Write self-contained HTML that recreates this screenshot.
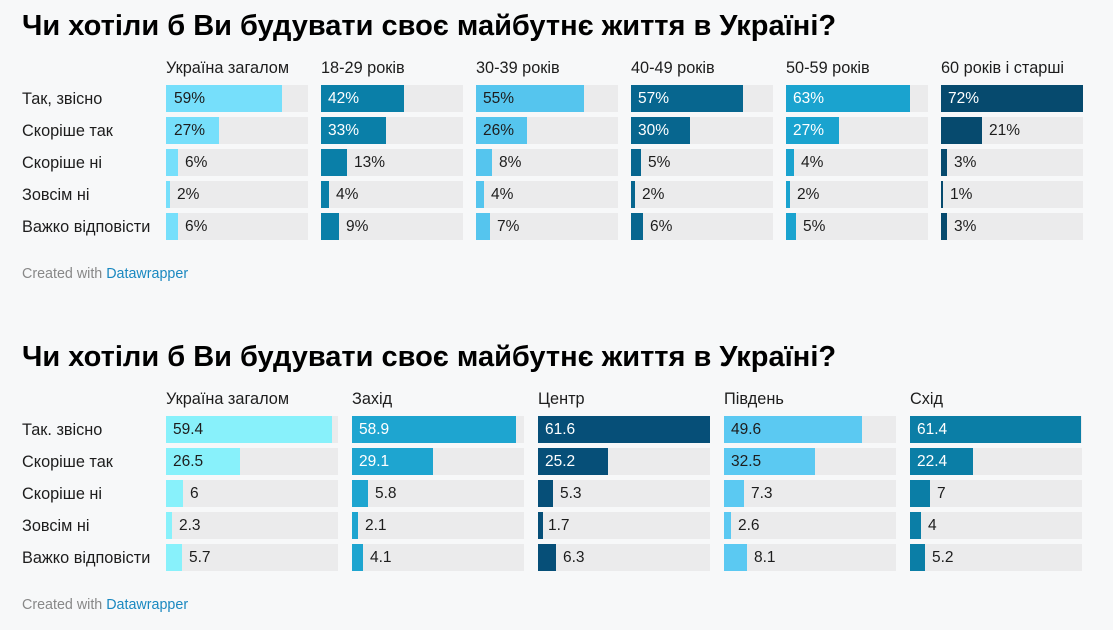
<!DOCTYPE html>
<html><head><meta charset="utf-8"><style>
body{margin:0;width:1113px;height:630px;background:#f7f8f9;font-family:"Liberation Sans","DejaVu Sans",sans-serif;position:relative;overflow:hidden;color:#1d1d1d}
.t{position:absolute;left:22px;font-weight:bold;font-size:29px;color:#000;white-space:nowrap}
.h{position:absolute;font-size:16.3px;white-space:nowrap}
.r{position:absolute;left:22px;font-size:16.3px;line-height:27px;white-space:nowrap}
.c{position:absolute;height:27px;background:#ebebec}
.b{position:absolute;left:0;top:0;height:27px}
.l{position:absolute;top:0;line-height:27px;font-size:15.5px;white-space:nowrap}
.w{color:#fff}
.f{position:absolute;left:22px;font-size:14.3px;color:#888}
.f span{color:#1a88c0}
</style></head><body>
<div class="t" style="top:10px">Чи хотіли б Ви будувати своє майбутнє життя в Україні?</div>
<div class="h" style="left:166px;top:59px">Україна загалом</div>
<div class="h" style="left:321px;top:59px">18-29 років</div>
<div class="h" style="left:476px;top:59px">30-39 років</div>
<div class="h" style="left:631px;top:59px">40-49 років</div>
<div class="h" style="left:786px;top:59px">50-59 років</div>
<div class="h" style="left:941px;top:59px">60 років і старші</div>
<div class="r" style="top:86px">Так, звісно</div>
<div class="r" style="top:118px">Скоріше так</div>
<div class="r" style="top:150px">Скоріше ні</div>
<div class="r" style="top:182px">Зовсім ні</div>
<div class="r" style="top:214px">Важко відповісти</div>

<div class="c" style="left:166px;top:85px;width:142px"><div class="b" style="width:116px;background:#76dffb"></div><span class="l" style="left:8px">59%</span></div>
<div class="c" style="left:166px;top:117px;width:142px"><div class="b" style="width:53px;background:#76dffb"></div><span class="l" style="left:8px">27%</span></div>
<div class="c" style="left:166px;top:149px;width:142px"><div class="b" style="width:12px;background:#76dffb"></div><span class="l" style="left:19px">6%</span></div>
<div class="c" style="left:166px;top:181px;width:142px"><div class="b" style="width:4px;background:#76dffb"></div><span class="l" style="left:11px">2%</span></div>
<div class="c" style="left:166px;top:213px;width:142px"><div class="b" style="width:12px;background:#76dffb"></div><span class="l" style="left:19px">6%</span></div>

<div class="c" style="left:321px;top:85px;width:142px"><div class="b" style="width:83px;background:#0a7fa8"></div><span class="l w" style="left:7px">42%</span></div>
<div class="c" style="left:321px;top:117px;width:142px"><div class="b" style="width:65px;background:#0a7fa8"></div><span class="l w" style="left:7px">33%</span></div>
<div class="c" style="left:321px;top:149px;width:142px"><div class="b" style="width:26px;background:#0a7fa8"></div><span class="l" style="left:33px">13%</span></div>
<div class="c" style="left:321px;top:181px;width:142px"><div class="b" style="width:8px;background:#0a7fa8"></div><span class="l" style="left:15px">4%</span></div>
<div class="c" style="left:321px;top:213px;width:142px"><div class="b" style="width:18px;background:#0a7fa8"></div><span class="l" style="left:25px">9%</span></div>

<div class="c" style="left:476px;top:85px;width:142px"><div class="b" style="width:108px;background:#55c5ee"></div><span class="l" style="left:7px">55%</span></div>
<div class="c" style="left:476px;top:117px;width:142px"><div class="b" style="width:51px;background:#55c5ee"></div><span class="l" style="left:7px">26%</span></div>
<div class="c" style="left:476px;top:149px;width:142px"><div class="b" style="width:16px;background:#55c5ee"></div><span class="l" style="left:23px">8%</span></div>
<div class="c" style="left:476px;top:181px;width:142px"><div class="b" style="width:8px;background:#55c5ee"></div><span class="l" style="left:15px">4%</span></div>
<div class="c" style="left:476px;top:213px;width:142px"><div class="b" style="width:14px;background:#55c5ee"></div><span class="l" style="left:21px">7%</span></div>

<div class="c" style="left:631px;top:85px;width:142px"><div class="b" style="width:112px;background:#07668f"></div><span class="l w" style="left:7px">57%</span></div>
<div class="c" style="left:631px;top:117px;width:142px"><div class="b" style="width:59px;background:#07668f"></div><span class="l w" style="left:7px">30%</span></div>
<div class="c" style="left:631px;top:149px;width:142px"><div class="b" style="width:10px;background:#07668f"></div><span class="l" style="left:17px">5%</span></div>
<div class="c" style="left:631px;top:181px;width:142px"><div class="b" style="width:4px;background:#07668f"></div><span class="l" style="left:11px">2%</span></div>
<div class="c" style="left:631px;top:213px;width:142px"><div class="b" style="width:12px;background:#07668f"></div><span class="l" style="left:19px">6%</span></div>

<div class="c" style="left:786px;top:85px;width:142px"><div class="b" style="width:124px;background:#1aa3cf"></div><span class="l w" style="left:7px">63%</span></div>
<div class="c" style="left:786px;top:117px;width:142px"><div class="b" style="width:53px;background:#1aa3cf"></div><span class="l w" style="left:7px">27%</span></div>
<div class="c" style="left:786px;top:149px;width:142px"><div class="b" style="width:8px;background:#1aa3cf"></div><span class="l" style="left:15px">4%</span></div>
<div class="c" style="left:786px;top:181px;width:142px"><div class="b" style="width:4px;background:#1aa3cf"></div><span class="l" style="left:11px">2%</span></div>
<div class="c" style="left:786px;top:213px;width:142px"><div class="b" style="width:10px;background:#1aa3cf"></div><span class="l" style="left:17px">5%</span></div>

<div class="c" style="left:941px;top:85px;width:142px"><div class="b" style="width:142px;background:#064a6e"></div><span class="l w" style="left:7px">72%</span></div>
<div class="c" style="left:941px;top:117px;width:142px"><div class="b" style="width:41px;background:#064a6e"></div><span class="l" style="left:48px">21%</span></div>
<div class="c" style="left:941px;top:149px;width:142px"><div class="b" style="width:6px;background:#064a6e"></div><span class="l" style="left:13px">3%</span></div>
<div class="c" style="left:941px;top:181px;width:142px"><div class="b" style="width:2px;background:#064a6e"></div><span class="l" style="left:9px">1%</span></div>
<div class="c" style="left:941px;top:213px;width:142px"><div class="b" style="width:6px;background:#064a6e"></div><span class="l" style="left:13px">3%</span></div>

<div class="f" style="top:266px">Created with <span>Datawrapper</span></div>

<div class="t" style="top:341px">Чи хотіли б Ви будувати своє майбутнє життя в Україні?</div>
<div class="h" style="left:166px;top:390px">Україна загалом</div>
<div class="h" style="left:352px;top:390px">Захід</div>
<div class="h" style="left:538px;top:390px">Центр</div>
<div class="h" style="left:724px;top:390px">Південь</div>
<div class="h" style="left:910px;top:390px">Схід</div>
<div class="r" style="top:417px">Так. звісно</div>
<div class="r" style="top:449px">Скоріше так</div>
<div class="r" style="top:481px">Скоріше ні</div>
<div class="r" style="top:513px">Зовсім ні</div>
<div class="r" style="top:545px">Важко відповісти</div>

<div class="c" style="left:166px;top:416px;width:172px"><div class="b" style="width:166px;background:#88f1fb"></div><span class="l" style="left:7px">59.4</span></div>
<div class="c" style="left:166px;top:448px;width:172px"><div class="b" style="width:74px;background:#88f1fb"></div><span class="l" style="left:7px">26.5</span></div>
<div class="c" style="left:166px;top:480px;width:172px"><div class="b" style="width:17px;background:#88f1fb"></div><span class="l" style="left:24px">6</span></div>
<div class="c" style="left:166px;top:512px;width:172px"><div class="b" style="width:6px;background:#88f1fb"></div><span class="l" style="left:13px">2.3</span></div>
<div class="c" style="left:166px;top:544px;width:172px"><div class="b" style="width:16px;background:#88f1fb"></div><span class="l" style="left:23px">5.7</span></div>

<div class="c" style="left:352px;top:416px;width:172px"><div class="b" style="width:164px;background:#1ea5d0"></div><span class="l w" style="left:7px">58.9</span></div>
<div class="c" style="left:352px;top:448px;width:172px"><div class="b" style="width:81px;background:#1ea5d0"></div><span class="l w" style="left:7px">29.1</span></div>
<div class="c" style="left:352px;top:480px;width:172px"><div class="b" style="width:16px;background:#1ea5d0"></div><span class="l" style="left:23px">5.8</span></div>
<div class="c" style="left:352px;top:512px;width:172px"><div class="b" style="width:6px;background:#1ea5d0"></div><span class="l" style="left:13px">2.1</span></div>
<div class="c" style="left:352px;top:544px;width:172px"><div class="b" style="width:11px;background:#1ea5d0"></div><span class="l" style="left:18px">4.1</span></div>

<div class="c" style="left:538px;top:416px;width:172px"><div class="b" style="width:172px;background:#064f78"></div><span class="l w" style="left:7px">61.6</span></div>
<div class="c" style="left:538px;top:448px;width:172px"><div class="b" style="width:70px;background:#064f78"></div><span class="l w" style="left:7px">25.2</span></div>
<div class="c" style="left:538px;top:480px;width:172px"><div class="b" style="width:15px;background:#064f78"></div><span class="l" style="left:22px">5.3</span></div>
<div class="c" style="left:538px;top:512px;width:172px"><div class="b" style="width:5px;background:#064f78"></div><span class="l" style="left:10px">1.7</span></div>
<div class="c" style="left:538px;top:544px;width:172px"><div class="b" style="width:18px;background:#064f78"></div><span class="l" style="left:25px">6.3</span></div>

<div class="c" style="left:724px;top:416px;width:172px"><div class="b" style="width:138px;background:#5bc9f2"></div><span class="l" style="left:7px">49.6</span></div>
<div class="c" style="left:724px;top:448px;width:172px"><div class="b" style="width:91px;background:#5bc9f2"></div><span class="l" style="left:7px">32.5</span></div>
<div class="c" style="left:724px;top:480px;width:172px"><div class="b" style="width:20px;background:#5bc9f2"></div><span class="l" style="left:27px">7.3</span></div>
<div class="c" style="left:724px;top:512px;width:172px"><div class="b" style="width:7px;background:#5bc9f2"></div><span class="l" style="left:14px">2.6</span></div>
<div class="c" style="left:724px;top:544px;width:172px"><div class="b" style="width:23px;background:#5bc9f2"></div><span class="l" style="left:30px">8.1</span></div>

<div class="c" style="left:910px;top:416px;width:172px"><div class="b" style="width:171px;background:#0b7ea6"></div><span class="l w" style="left:7px">61.4</span></div>
<div class="c" style="left:910px;top:448px;width:172px"><div class="b" style="width:63px;background:#0b7ea6"></div><span class="l w" style="left:7px">22.4</span></div>
<div class="c" style="left:910px;top:480px;width:172px"><div class="b" style="width:20px;background:#0b7ea6"></div><span class="l" style="left:27px">7</span></div>
<div class="c" style="left:910px;top:512px;width:172px"><div class="b" style="width:11px;background:#0b7ea6"></div><span class="l" style="left:18px">4</span></div>
<div class="c" style="left:910px;top:544px;width:172px"><div class="b" style="width:15px;background:#0b7ea6"></div><span class="l" style="left:22px">5.2</span></div>

<div class="f" style="top:597px">Created with <span>Datawrapper</span></div>
</body></html>
